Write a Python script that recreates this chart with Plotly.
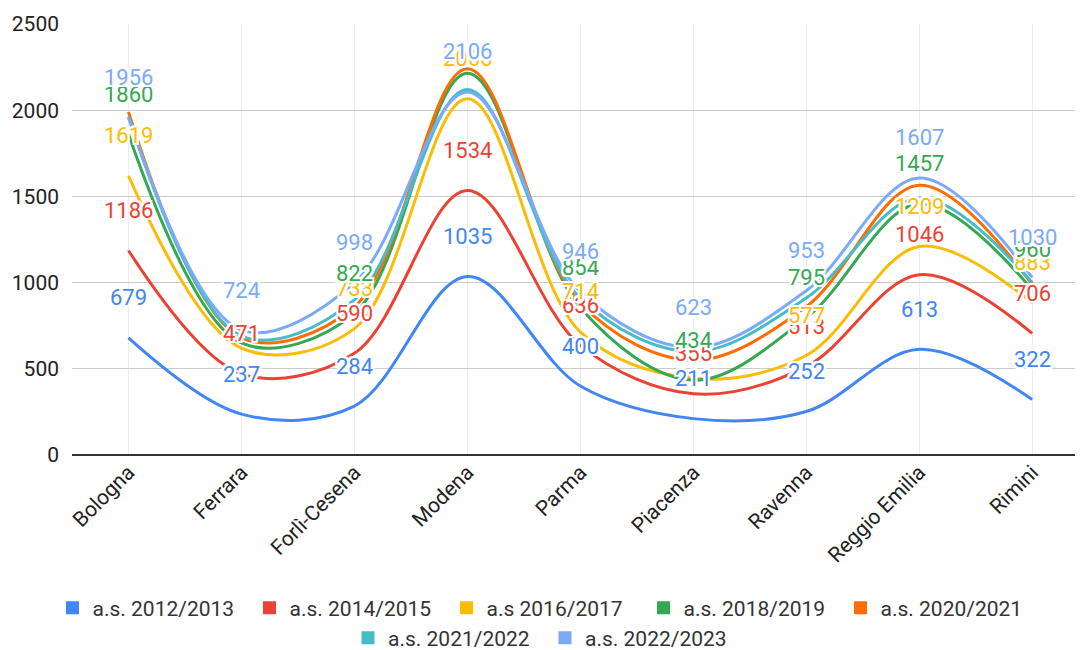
import plotly.graph_objects as go

# Province (categories)
province = ["Bologna", "Ferrara", "Forlì-Cesena", "Modena", "Parma",
            "Piacenza", "Ravenna", "Reggio Emilia", "Rimini"]

# Values per school year
as_2012 = [679, 237, 284, 1035, 400, 211, 252, 613, 322]
as_2014 = [1186, 471, 590, 1534, 636, 355, 513, 1046, 706]
as_2016 = [1619, 620, 733, 2066, 714, 445, 577, 1209, 883]
as_2018 = [1860, 650, 822, 2215, 854, 434, 795, 1457, 960]
as_2020 = [1990, 680, 860, 2240, 880, 550, 860, 1565, 990]
as_2021 = [1965, 690, 900, 2120, 910, 600, 910, 1490, 1000]
as_2022 = [1956, 724, 998, 2106, 946, 623, 953, 1607, 1030]

# which data labels are visible in the original (others are hidden by overlap)
lbl_2012 = [1, 1, 1, 1, 1, 1, 1, 1, 1]
lbl_2014 = [1, 1, 1, 1, 1, 1, 1, 1, 1]
lbl_2016 = [1, 0, 1, 1, 1, 0, 1, 1, 1]
lbl_2018 = [1, 0, 1, 0, 1, 1, 1, 1, 1]
lbl_2020 = [0, 0, 0, 0, 0, 0, 0, 0, 0]
lbl_2021 = [0, 0, 0, 0, 0, 0, 0, 0, 0]
lbl_2022 = [1, 1, 1, 1, 1, 1, 1, 1, 1]

series = [
    ("a.s. 2012/2013", as_2012, lbl_2012, "#4285F4"),
    ("a.s. 2014/2015", as_2014, lbl_2014, "#EA4335"),
    ("a.s 2016/2017", as_2016, lbl_2016, "#FBBC04"),
    ("a.s. 2018/2019", as_2018, lbl_2018, "#34A853"),
    ("a.s. 2020/2021", as_2020, lbl_2020, "#FF6D01"),
    ("a.s. 2021/2022", as_2021, lbl_2021, "#46BDC6"),
    ("a.s. 2022/2023", as_2022, lbl_2022, "#7BAAF7"),
]

halo = ("2px 0 0 white, -2px 0 0 white, 0 2px 0 white, 0 -2px 0 white, "
        "2px 2px 0 white, -2px -2px 0 white, 2px -2px 0 white, -2px 2px 0 white")

fig = go.Figure()
annotations = []
for i, (name, vals, lbl, col) in enumerate(series):
    fig.add_trace(go.Scatter(x=province, y=vals, mode="lines", name=name,
                             line=dict(color=col, width=3, shape="spline", smoothing=1.0),
                             showlegend=False, hoverinfo="x+y+name"))
    # legend entry (square swatch), split in two rows like the original
    fig.add_trace(go.Scatter(x=[None], y=[None], mode="markers", name=name,
                             marker=dict(symbol="square", size=13, color=col),
                             legend="legend" if i < 5 else "legend2"))
    for p, v, show in zip(province, vals, lbl):
        if show:
            annotations.append(dict(x=p, y=v, text=str(v), showarrow=False,
                                    yshift=40, yanchor="middle", xref="x", yref="y",
                                    font=dict(family="Roboto", size=22, color=col,
                                              shadow=halo)))

# page body has an 8px margin, so the figure is 8px smaller than the window
W, H = 1075, 642

legend_style = dict(orientation="h", xref="container", yref="container",
                    xanchor="center", x=537 / W, yanchor="middle",
                    font=dict(family="Roboto", size=21, color="#333333"),
                    itemwidth=30, entrywidth=152, bgcolor="rgba(0,0,0,0)")

fig.update_layout(
    width=W, height=H,
    margin=dict(l=64, r=0, t=16, b=H - 447, autoexpand=False),
    paper_bgcolor="white", plot_bgcolor="white",
    font=dict(family="Roboto", size=20, color="#333333"),
    annotations=annotations,
    legend=dict(legend_style, y=1 - 600 / H),
    legend2=dict(legend_style, y=1 - 630 / H),
    xaxis=dict(type="category", range=[-0.5, 8.45], tickangle=-45,
               showgrid=True, gridcolor="#ececec", gridwidth=1, automargin=False,
               ticks="", tickfont=dict(family="Roboto", size=21, color="#222222"),
               showline=False, zeroline=False),
    yaxis=dict(range=[0, 2500], dtick=500, showgrid=True, gridcolor="#cccccc",
               gridwidth=1, zeroline=True, zerolinecolor="#333333", zerolinewidth=2,
               automargin=False,
               tickfont=dict(family="Roboto", size=21, color="#222222"),
               ticks="", ticklabelstandoff=12),
)

fig.write_html("out.html")
